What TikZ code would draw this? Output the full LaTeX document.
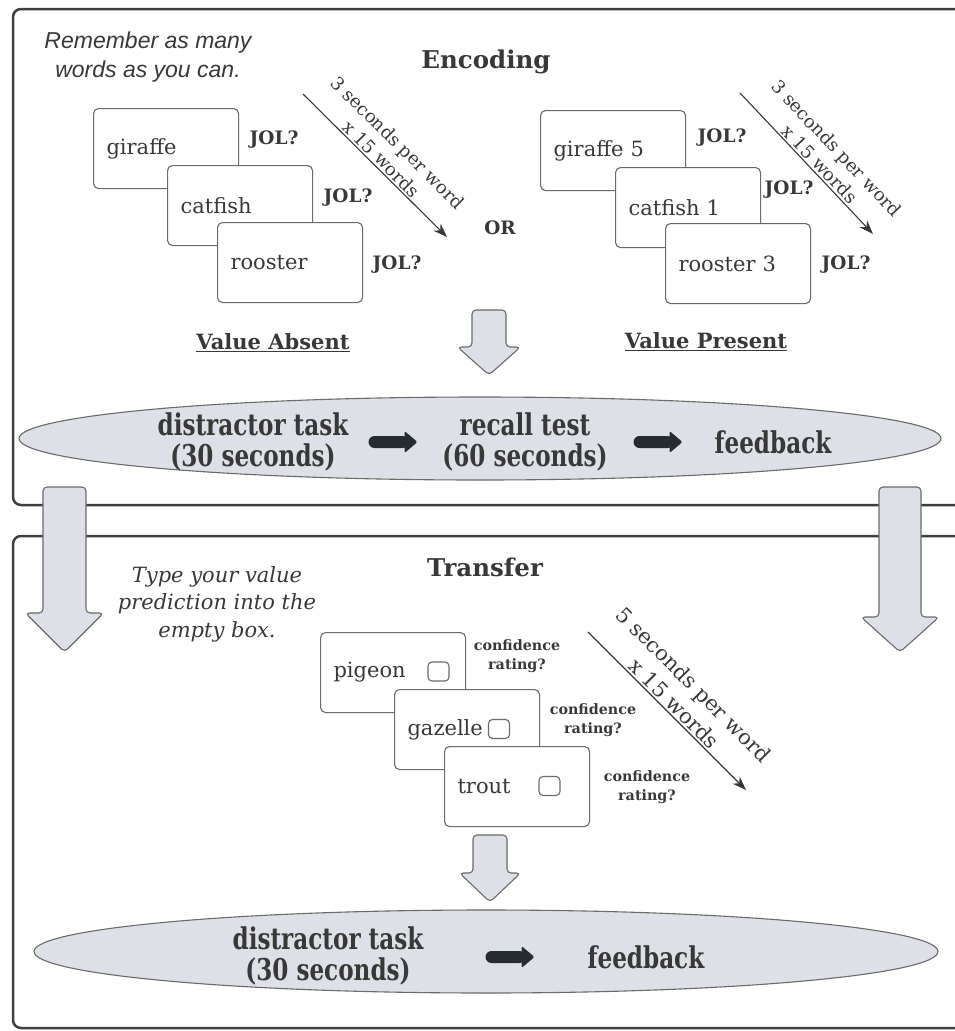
\documentclass[tikz,border=0pt]{standalone}
\usepackage{fontspec}
\setmainfont{DejaVu Serif}
\newfontfamily\instrfont{Liberation Sans}
\newfontfamily\ovalfont[FakeStretch=0.77]{DejaVu Serif}
\usetikzlibrary{arrows.meta,shapes.geometric,positioning}

\definecolor{panelline}{HTML}{3F3F3F}
\definecolor{softfill}{HTML}{DDE0E6}
\definecolor{softline}{HTML}{6A6A6A}
\definecolor{darkarrow}{HTML}{262B34}
\definecolor{ink}{HTML}{383838}

\tikzset{
  panel/.style={draw=panelline, line width=2.5pt, rounded corners=8pt},
  card/.style={draw=softline, line width=1.1pt, fill=white, rounded corners=5pt,
    minimum width=145pt, minimum height=80pt, text width=119pt, inner xsep=13pt,
    align=left, font=\fontsize{21}{25}\selectfont, text=ink},
  chk/.style={draw=softline, line width=1.1pt, rounded corners=4pt,
    minimum width=21pt, minimum height=19pt, inner sep=0pt},
  jol/.style={font=\bfseries\fontsize{18.5}{22}\selectfont, text=ink},
  valuelabel/.style={font=\bfseries\fontsize{21}{25}\selectfont, text=ink},
  conf/.style={font=\bfseries\fontsize{14.3}{19}\selectfont, text=ink, align=center},
  heading/.style={font=\bfseries\fontsize{24.5}{28}\selectfont, text=ink},
  oval/.style={ellipse, draw=softline, line width=1.1pt, fill=softfill, inner sep=0pt},
  ovaltext/.style={font=\ovalfont\bfseries\fontsize{30}{31}\selectfont, text=ink, align=center},
  fatarrow/.style={draw=softline, line width=1.1pt, fill=softfill, rounded corners=4pt},
  timing/.style={draw=ink, line width=1.1pt, ->},
  diag/.style={sloped, above, align=center, inner sep=2pt, text=ink},
  >={Stealth[length=14pt,width=10pt]},
}

% cx, top, shaft half width, head start, head half width, tip
\newcommand{\fatdown}[6]{%
  \draw[fatarrow] (#1,#2) -- ({#1+#3},#2) -- ({#1+#3},#4) -- ({#1+#5},#4) -- (#1,#6)
    -- ({#1-#5},#4) -- ({#1-#3},#4) -- ({#1-#3},#2) -- cycle;}
% start x, mid y
\newcommand{\darkright}[2]{%
  \fill[darkarrow, rounded corners=6pt] (#1,{#2-6}) rectangle ({#1+40},{#2+6});
  \fill[darkarrow, rounded corners=1.5pt] ({#1+36},{#2-11}) -- ({#1+49},#2) -- ({#1+36},{#2+11}) -- cycle;}

\begin{document}
\begin{tikzpicture}[x=1pt,y=-1pt]
  \clip (0,0) rectangle (955,1031);
  % panels
  \draw[panel] (965,9) -- (13,9) -- (13,505) -- (965,505);
  \draw[panel] (965,536) -- (13,536) -- (13,1028) -- (965,1028);

  % Encoding
  \node[heading] (encTitle) at (486,62) {Encoding};
  \node[font=\instrfont\itshape\fontsize{23}{29}\selectfont, align=center, text=ink]
    (remember) at (148,57.5) {Remember as many\\words as you can.};

  \node[card, anchor=north west] (giraffeA) at (93,108) {giraffe};
  \node[card, anchor=north west] (catfishA) at (167,165) {catfish};
  \node[card, anchor=north west] (roosterA) at (217,222) {rooster};
  \node[jol] (jolA1) at (274,140) {JOL?};
  \node[jol] (jolA2) at (348,198) {JOL?};
  \node[jol] (jolA3) at (397,265) {JOL?};

  \coordinate (encA1) at (303,94);
  \coordinate (encA2) at (447,237);
  \draw[timing] (encA1) -- node[diag, font=\fontsize{18}{23}\selectfont]
    {3 seconds per word\\x 15 words} (encA2);

  \node[jol] (orLabel) at (500,228) {OR};

  \node[card, anchor=north west] (giraffeB) at (540,110) {giraffe 5};
  \node[card, anchor=north west] (catfishB) at (615,167) {catfish 1};
  \node[card, anchor=north west] (roosterB) at (665,223) {rooster 3};
  \node[jol] (jolB1) at (722,138) {JOL?};
  \node[jol] (jolB2) at (789,190) {JOL?};
  \node[jol] (jolB3) at (846,265) {JOL?};

  \coordinate (encB1) at (740,93);
  \coordinate (encB2) at (873,234);
  \draw[timing] (encB1) -- node[diag, pos=0.55, font=\fontsize{18}{23}\selectfont]
    {3 seconds per word\\x 15 words} (encB2);

  \node[valuelabel] (absent) at (273,343) {\underline{Value Absent}};
  \node[valuelabel] (present) at (706,342) {\underline{Value Present}};

  \fatdown{489}{310}{17}{347}{31.5}{375}

  \node[oval, minimum width=922pt, minimum height=83pt] (encOval) at (480,438.5) {};
  \node[ovaltext] (distractA) at (253,442) {distractor task\\(30 seconds)};
  \node[ovaltext] (recall) at (525,442) {recall test\\(60 seconds)};
  \node[ovaltext] (feedbackA) at (773,442) {feedback};
  \darkright{368.5}{442}
  \darkright{633.5}{442}

  % Transfer
  \fatdown{64.5}{487}{21.5}{613}{39}{652}
  \fatdown{900}{487}{21}{617}{39}{652}

  \node[heading] (transTitle) at (485,567) {Transfer};
  \node[font=\itshape\fontsize{21}{27.5}\selectfont, align=center, text=ink]
    (typeHint) at (217,604) {Type your value\\prediction into the\\empty box.};

  \node[card, anchor=north west] (pigeon) at (320,632) {pigeon};
  \node[chk] (pigeonBox) at (438.5,671.5) {};
  \node[card, anchor=north west] (gazelle) at (394,689) {gazelle};
  \node[chk] (gazelleBox) at (499,729) {};
  \node[card, anchor=north west] (trout) at (444,746) {trout};
  \node[chk] (troutBox) at (549.5,786) {};

  \node[conf] (confA) at (517,656.5) {confidence\\rating?};
  \node[conf] (confB) at (593,720) {confidence\\rating?};
  \node[conf] (confC) at (647,787.5) {confidence\\rating?};

  \coordinate (tr1) at (588,632);
  \coordinate (tr2) at (746,790);
  \draw[timing] (tr1) -- node[diag, font=\fontsize{21}{27}\selectfont]
    {5 seconds per word\\x 15 words} (tr2);

  \fatdown{490}{835}{17}{873}{30.5}{902}

  \node[oval, minimum width=904pt, minimum height=83pt] (transOval) at (486,951.5) {};
  \node[ovaltext] (distractB) at (328,956) {distractor task\\(30 seconds)};
  \node[ovaltext] (feedbackB) at (646,957) {feedback};
  \darkright{485.5}{957}
\end{tikzpicture}
\end{document}
